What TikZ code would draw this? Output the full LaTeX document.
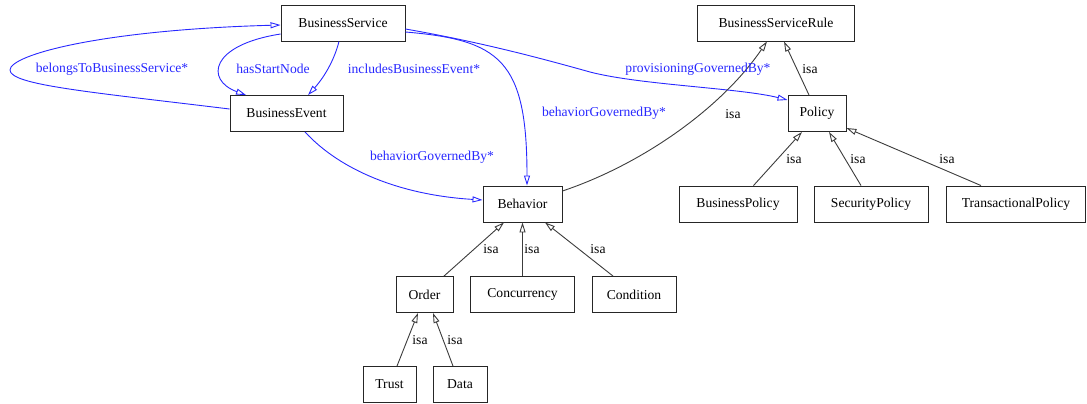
\documentclass[tikz,border=0pt]{standalone}
\usepackage{fontspec}
\setmainfont{Liberation Serif}
\usetikzlibrary{arrows.meta}
\definecolor{eblue}{RGB}{40,40,255}
\definecolor{egray}{RGB}{60,60,60}
\begin{document}
\begin{tikzpicture}[x=1pt,y=-1pt,
  box/.style={draw=black!85, line width=0.9pt, minimum height=36pt, inner sep=0pt, font=\fontsize{13.6}{16}\selectfont},
  rel/.style={draw=eblue, line width=0.9pt, -{Triangle[open,length=10pt,width=6pt]}},
  isa/.style={draw=egray, line width=0.9pt, -{Triangle[open,length=10pt,width=6pt]}},
  rlab/.style={text=eblue, inner sep=0pt, font=\fontsize{13.6}{16}\selectfont},
  ilab/.style={text=black, inner sep=0pt, font=\fontsize{13.6}{16}\selectfont}]
\useasboundingbox (0,0) rectangle (1087,404);
% nodes
\node[box, minimum width=124pt] (bs)    at (343,23)    {BusinessService};
\node[box, minimum width=113pt] (be)    at (286.5,113.5) {BusinessEvent};
\node[box, minimum width=79pt]  (beh)   at (522.5,204) {Behavior};
\node[box, minimum width=157pt] (bsr)   at (776,23)    {BusinessServiceRule};
\node[box, minimum width=58pt]  (pol)   at (817,113.5) {Policy};
\node[box, minimum width=118pt] (bp)    at (738,204)   {BusinessPolicy};
\node[box, minimum width=114pt] (sp)    at (871,204)   {SecurityPolicy};
\node[box, minimum width=139pt] (tp)    at (1016,204)  {TransactionalPolicy};
\node[box, minimum width=57pt]  (ord)   at (424.5,294.5) {Order};
\node[box, minimum width=104pt] (conc)  at (522.5,294.5) {Concurrency};
\node[box, minimum width=84pt]  (cond)  at (634,294.5) {Condition};
\node[box, minimum width=53pt]  (trust) at (389.5,384.5) {Trust};
\node[box, minimum width=54pt]  (data)  at (460,384.5) {Data};
% blue relations
\draw[rel] ([yshift=4.5pt]be.west) .. controls (90,92) and (10,85) .. (10,70)
  .. controls (10,55) and (100,30) .. ([yshift=-2pt]bs.west);
\draw[rel] ([yshift=-11pt]bs.west) .. controls (210,45) and (205,80) .. ([xshift=-40.5pt]be.north);
\draw[rel] ([xshift=-4pt]bs.south) .. controls (333,65) and (320,82) .. ([xshift=21.5pt]be.north);
\draw[rel] ([xshift=18.5pt]be.south) .. controls (340,170) and (400,195) .. ([yshift=4pt]beh.west);
\draw[rel] ([yshift=-9pt]bs.east) .. controls (500,40) and (527,60) .. ([xshift=4.5pt]beh.north);
\draw[rel] ([yshift=-6pt]bs.east) .. controls (480,42) and (540,58) .. (590,72)
  .. controls (640,85) and (740,88) .. ([yshift=13.5pt]pol.west);
% isa relations
\draw[isa] ([yshift=13pt]beh.east) .. controls (640,165) and (720,110) .. ([xshift=-9pt]bsr.south);
\draw[isa] ([xshift=-8pt]pol.north) -- ([xshift=8pt]bsr.south);
\draw[isa] ([xshift=15.5pt]bp.north) -- ([xshift=-15pt]pol.south);
\draw[isa] ([xshift=-10pt]sp.north) -- ([xshift=12pt]pol.south);
\draw[isa] ([xshift=-35pt]tp.north) -- ([yshift=-14.5pt]pol.east);
\draw[isa] ([xshift=19.5pt]ord.north) -- ([xshift=-18.5pt]beh.south);
\draw[isa] (conc.north) -- (beh.south);
\draw[isa] ([xshift=-21pt]cond.north) -- ([xshift=22.5pt]beh.south);
\draw[isa] ([xshift=7.5pt]trust.north) -- ([xshift=-6.5pt]ord.south);
\draw[isa] ([xshift=-7pt]data.north) -- ([xshift=8.5pt]ord.south);
% labels
\node[rlab] (l1) at (112,69)  {belongsToBusinessService*};
\node[rlab] (l2) at (273,69)  {hasStartNode};
\node[rlab] (l3) at (414,69)  {includesBusinessEvent*};
\node[rlab] (l4) at (432,157) {behaviorGovernedBy*};
\node[rlab] (l5) at (604,113) {behaviorGovernedBy*};
\node[rlab] (l6) at (698,69)  {provisioningGovernedBy*};
\node[ilab] (i1) at (733,114) {isa};
\node[ilab] (i2) at (810,69)  {isa};
\node[ilab] (i3) at (794,159) {isa};
\node[ilab] (i4) at (858,159) {isa};
\node[ilab] (i5) at (947,159) {isa};
\node[ilab] (i6) at (491,249) {isa};
\node[ilab] (i7) at (532,249) {isa};
\node[ilab] (i8) at (598,249) {isa};
\node[ilab] (i9) at (420,340) {isa};
\node[ilab] (i10) at (455,340) {isa};
\end{tikzpicture}
\end{document}
